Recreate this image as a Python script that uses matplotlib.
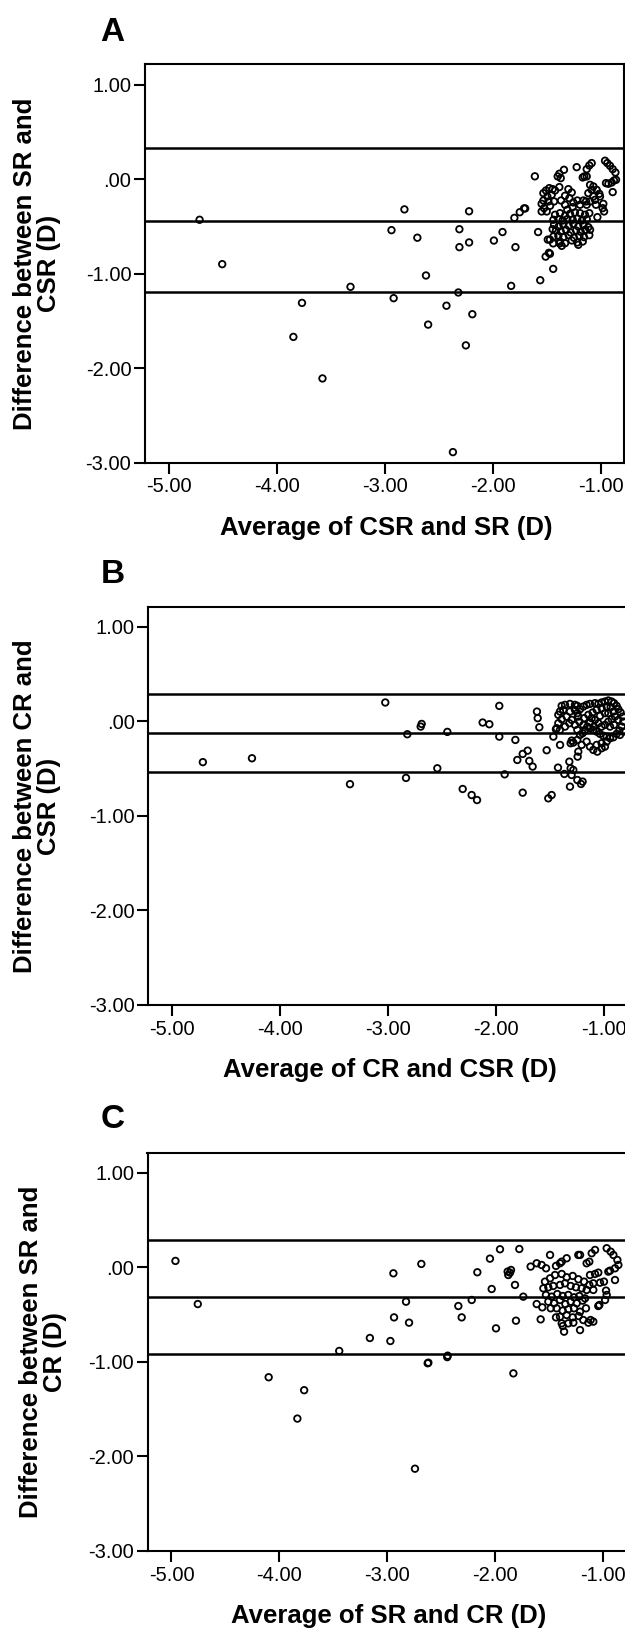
import matplotlib
matplotlib.use('Agg')
import matplotlib.pyplot as plt

plt.rcParams['font.family'] = ['Liberation Sans', 'DejaVu Sans']

# ---------------- data ----------------
x_ticks = [-5, -4, -3, -2, -1]
x_tick_labels = ['-5.00', '-4.00', '-3.00', '-2.00', '-1.00']
y_ticks = [1, 0, -1, -2, -3]
y_tick_labels = ['1.00', '.00', '-1.00', '-2.00', '-3.00']

panel_letters = ['A', 'B', 'C']
x_titles = ['Average of CSR and SR (D)', 'Average of CR and CSR (D)', 'Average of SR and CR (D)']
y_titles = ['Difference between SR and\nCSR (D)',
            'Difference between CR and\nCSR (D)',
            'Difference between SR and\nCR (D)']

# mean difference and limits of agreement (upper, mean, lower)
a_lines = [0.33, -0.44, -1.20]
b_lines = [0.29, -0.12, -0.54]
c_lines = [0.29, -0.31, -0.92]

a_points = [
    (-4.72, -0.43), (-4.51, -0.90), (-3.85, -1.67), (-3.77, -1.31), (-3.58, -2.11),
    (-3.32, -1.14), (-2.94, -0.54), (-2.92, -1.26), (-2.82, -0.32), (-2.70, -0.62),
    (-2.62, -1.02), (-2.60, -1.54), (-2.43, -1.34), (-2.37, -2.89), (-2.32, -1.20),
    (-2.31, -0.53), (-2.31, -0.72), (-2.25, -1.76), (-2.22, -0.34), (-2.22, -0.67),
    (-2.19, -1.43), (-1.99, -0.65), (-1.91, -0.56), (-1.83, -1.13), (-1.80, -0.41),
    (-1.79, -0.72), (-1.75, -0.35), (-1.71, -0.31), (-1.70, -0.31), (-1.61, 0.03),
    (-1.58, -0.56), (-1.56, -1.07), (-1.44, -0.95), (-1.51, -0.82), (-1.48, -0.78),
    (-1.47, -0.79), (-1.38, -0.68), (-1.44, -0.68), (-1.49, -0.64), (-1.47, -0.64),
    (-0.959, 0.195), (-0.938, 0.170), (-0.913, 0.142), (-0.888, 0.106), (-0.863, 0.071),
    (-0.857, -0.007), (-0.876, -0.014), (-0.897, -0.035), (-0.928, -0.049), (-0.950, -0.042),
    (-0.888, -0.137), (-0.975, -0.261), (-0.981, -0.307), (-0.968, -0.342), (-1.030, -0.402),
    (-1.083, 0.170), (-1.105, 0.145), (-1.129, 0.106), (-1.151, 0.029), (-1.129, 0.029),
    (-1.166, 0.018), (-1.222, 0.127), (-1.340, 0.099), (-1.383, 0.057), (-1.398, 0.029),
    (-1.370, 0.011),
    (-1.098, -0.060), (-1.067, -0.077), (-1.037, -0.113), (-1.012, -0.155), (-1.083, -0.113),
    (-1.114, -0.148), (-1.067, -0.183), (-1.006, -0.183), (-1.052, -0.219), (-1.098, -0.236),
    (-1.135, -0.236), (-1.043, -0.271),
    (-1.531, -0.148), (-1.507, -0.120), (-1.476, -0.095), (-1.445, -0.106), (-1.423, -0.120),
    (-1.454, -0.166), (-1.494, -0.183), (-1.531, -0.226), (-1.547, -0.261), (-1.525, -0.307),
    (-1.500, -0.342), (-1.547, -0.342), (-1.469, -0.282), (-1.432, -0.236), (-1.485, -0.236),
    (-1.383, -0.084),
    (-1.299, -0.106), (-1.268, -0.141), (-1.290, -0.201), (-1.330, -0.176), (-1.367, -0.226),
    (-1.330, -0.271), (-1.253, -0.247), (-1.216, -0.226), (-1.191, -0.271), (-1.160, -0.226),
    (-1.129, -0.271), (-1.309, -0.324), (-1.259, -0.296),
    (-1.423, -0.377), (-1.377, -0.360), (-1.330, -0.388), (-1.284, -0.367), (-1.238, -0.353),
    (-1.191, -0.360), (-1.145, -0.377), (-1.105, -0.360), (-1.438, -0.430), (-1.392, -0.423),
    (-1.352, -0.437), (-1.309, -0.423), (-1.259, -0.430), (-1.216, -0.416), (-1.173, -0.437),
    (-1.129, -0.423), (-1.432, -0.483), (-1.389, -0.501), (-1.346, -0.480), (-1.296, -0.494),
    (-1.253, -0.473), (-1.207, -0.501), (-1.160, -0.487), (-1.114, -0.508), (-1.414, -0.543),
    (-1.370, -0.554), (-1.321, -0.536), (-1.278, -0.565), (-1.228, -0.543), (-1.185, -0.557),
    (-1.142, -0.536), (-1.445, -0.529), (-1.392, -0.600), (-1.346, -0.614), (-1.296, -0.593),
    (-1.247, -0.621), (-1.197, -0.600), (-1.154, -0.614), (-1.105, -0.593), (-1.377, -0.660),
    (-1.330, -0.678), (-1.268, -0.649), (-1.216, -0.670), (-1.361, -0.706), (-1.207, -0.695),
    (-1.166, -0.660), (-1.438, -0.607), (-1.098, -0.536),
]

b_points = [
    (-4.716, -0.431), (-4.261, -0.390), (-3.353, -0.664),
    (-3.026, 0.200), (-2.822, -0.136), (-2.834, -0.598), (-2.698, -0.055), (-2.689, -0.027),
    (-2.544, -0.496), (-2.451, -0.111), (-2.309, -0.715), (-2.226, -0.779), (-2.176, -0.832),
    (-2.124, -0.012), (-2.062, -0.030), (-1.970, 0.164), (-1.970, -0.161), (-1.920, -0.560),
    (-1.821, -0.196), (-1.803, -0.408), (-1.753, -0.344), (-1.753, -0.754), (-1.707, -0.309),
    (-1.692, -0.418), (-1.661, -0.478), (-1.621, 0.104), (-1.614, 0.034), (-1.599, -0.062),
    (-1.531, -0.305), (-1.516, -0.814), (-1.485, -0.779), (-1.469, -0.161), (-1.426, -0.489),
    (-1.407, -0.249), (-1.445, -0.083), (-1.367, -0.556), (-1.321, -0.426), (-1.309, -0.496),
    (-1.300, -0.567), (-1.315, -0.690), (-1.284, -0.514), (-1.247, -0.620), (-1.213, -0.662),
    (-1.198, -0.637), (-1.309, -0.231), (-1.284, -0.224), (-1.244, -0.373), (-1.238, -0.320),
    (-1.392, 0.164), (-1.361, 0.175), (-1.315, 0.185), (-1.269, 0.175), (-1.247, 0.164),
    (-1.408, 0.104), (-1.377, 0.122), (-1.423, 0.069), (-1.392, 0.023), (-1.423, -0.019),
    (-1.438, -0.072), (-1.408, -0.090), (-1.361, -0.055), (-1.321, -0.019), (-1.299, 0.016),
    (-1.346, 0.051), (-1.315, 0.104), (-1.269, 0.122), (-1.247, 0.087), (-1.222, 0.129),
    (-1.191, 0.157), (-1.161, 0.175), (-1.130, 0.185), (-1.083, 0.193), (-1.052, 0.185),
    (-1.022, 0.200), (-0.991, 0.210), (-0.960, 0.221), (-0.929, 0.210), (-0.907, 0.193),
    (-0.883, 0.164), (-0.867, 0.129), (-0.846, 0.094), (-0.827, 0.051), (-0.821, -0.002),
    (-0.836, -0.055), (-0.858, -0.097), (-0.883, -0.132), (-0.913, -0.168), (-0.944, -0.178),
    (-0.975, -0.161), (-1.006, -0.153), (-1.037, -0.132), (-1.068, -0.108), (-1.099, -0.090),
    (-1.130, -0.072), (-1.154, -0.055), (-1.176, -0.090), (-1.198, -0.125), (-1.222, -0.143),
    (-1.247, -0.090), (-1.269, -0.037), (-1.228, -0.002), (-1.185, 0.034), (-1.145, 0.069),
    (-1.105, 0.094), (-1.068, 0.122), (-1.022, 0.139), (-0.975, 0.157), (-0.938, 0.150),
    (-0.913, 0.104), (-0.898, 0.051), (-0.929, 0.023), (-0.960, -0.002), (-0.991, -0.037),
    (-1.022, -0.055), (-1.052, -0.019), (-1.083, 0.016), (-1.114, 0.034), (-1.130, -0.012),
    (-1.093, -0.055), (-0.991, 0.087), (-1.037, 0.058), (-0.960, 0.087), (-0.944, -0.055),
    (-0.907, -0.037), (-0.867, 0.016), (-0.852, -0.143), (-0.821, -0.108), (-1.191, -0.037),
    (-1.238, 0.051),
    (-1.299, -0.203), (-1.247, -0.196), (-1.207, -0.249), (-1.161, -0.214), (-1.130, -0.267),
    (-1.099, -0.302), (-1.062, -0.320), (-1.022, -0.284), (-0.991, -0.267), (-0.975, -0.214),
    (-1.022, -0.231), (-1.068, -0.249),
]

c_points = [
    (-4.963, 0.067), (-4.756, -0.389), (-4.099, -1.163), (-3.833, -1.600), (-3.770, -1.300),
    (-3.445, -0.885), (-3.161, -0.748), (-2.971, -0.780), (-2.943, -0.064), (-2.937, -0.530),
    (-2.826, -0.364), (-2.798, -0.586), (-2.743, -2.130), (-2.684, 0.035), (-2.619, -1.009),
    (-2.625, -1.015), (-2.440, -0.935), (-2.444, -0.950), (-2.341, -0.410), (-2.310, -0.530),
    (-2.217, -0.346), (-2.165, -0.053), (-2.048, 0.091), (-2.032, -0.230), (-1.992, -0.646),
    (-1.955, 0.190), (-1.878, -0.082), (-1.862, -0.057), (-1.853, -0.029), (-1.884, -0.046),
    (-1.816, -0.187), (-1.807, -0.565), (-1.831, -1.122), (-1.776, 0.193), (-1.739, -0.311),
    (-1.671, 0.007), (-1.615, 0.042), (-1.569, 0.024), (-1.528, -0.011), (-1.491, 0.130),
    (-1.436, 0.014), (-1.399, 0.042), (-1.383, 0.059), (-1.337, 0.095), (-1.615, -0.389),
    (-1.563, -0.424), (-1.578, -0.551), (-1.485, -0.434), (-1.436, -0.530), (-1.383, -0.593),
    (-1.373, -0.621), (-1.361, -0.681), (-1.275, -0.586), (-1.213, -0.664), (-1.136, -0.586),
    (-1.115, -0.558), (-1.090, -0.575), (-1.229, 0.130), (-1.213, 0.130), (-1.152, 0.042),
    (-1.127, 0.059), (-1.105, 0.148), (-1.074, 0.183), (-0.966, 0.201), (-0.929, 0.165),
    (-0.904, 0.130), (-0.867, 0.077), (-0.858, 0.024), (-0.889, -0.011), (-0.935, -0.036),
    (-0.951, -0.046), (-0.889, -0.135), (-0.972, -0.247), (-0.966, -0.293), (-0.981, -0.346),
    (-1.034, -0.399), (-1.044, -0.410), (-1.028, -0.163), (-0.991, -0.152), (-1.090, -0.170),
    (-1.121, -0.082), (-1.074, -0.071), (-1.044, -0.057), (-1.090, -0.240), (-1.127, -0.187),
    (-1.538, -0.152), (-1.491, -0.117), (-1.445, -0.082), (-1.383, -0.071), (-1.337, -0.106),
    (-1.281, -0.092), (-1.229, -0.127), (-1.176, -0.152),
    (-1.553, -0.223), (-1.507, -0.212), (-1.461, -0.198), (-1.399, -0.187), (-1.352, -0.170),
    (-1.300, -0.198), (-1.251, -0.212), (-1.198, -0.223), (-1.152, -0.240),
    (-1.529, -0.293), (-1.476, -0.311), (-1.424, -0.283), (-1.374, -0.304), (-1.322, -0.293),
    (-1.269, -0.318), (-1.220, -0.304), (-1.167, -0.329),
    (-1.507, -0.364), (-1.454, -0.381), (-1.399, -0.346), (-1.349, -0.389), (-1.300, -0.364),
    (-1.244, -0.381), (-1.189, -0.353),
    (-1.430, -0.434), (-1.374, -0.459), (-1.322, -0.445), (-1.269, -0.434), (-1.213, -0.470),
    (-1.158, -0.434),
    (-1.399, -0.523), (-1.337, -0.505), (-1.281, -0.530), (-1.226, -0.516), (-1.183, -0.558),
    (-1.322, -0.593),
]

# ---------------- layout ----------------
W, H = 625, 1629
fig = plt.figure(figsize=(W / 100, H / 100), dpi=100)

panels = [
    dict(points=a_points, lines=a_lines, box=(144.7, 623.8, 64.4, 462.5),
         xlim=(-5.229, -0.785), ylim=(-3.0, 1.215),
         letter_xy=(100, 41), ylab_x=37, xlab_x=385.8),
    dict(points=b_points, lines=b_lines, box=(147.9, 630.0, 607.0, 1005.0),
         xlim=(-5.225, -0.759), ylim=(-3.0, 1.21),
         letter_xy=(101, 583), ylab_x=37, xlab_x=389.8),
    dict(points=c_points, lines=c_lines, box=(147.5, 630.0, 1152.8, 1551.0),
         xlim=(-5.222, -0.750), ylim=(-3.0, 1.21),
         letter_xy=(101, 1128), ylab_x=43, xlab_x=388.6),
]

for i, p in enumerate(panels):
    l, r, t, b = p['box']
    ax = fig.add_axes([l / W, 1 - b / H, (r - l) / W, (b - t) / H])
    ax.set_xlim(*p['xlim'])
    ax.set_ylim(*p['ylim'])
    for v in p['lines']:
        ax.axhline(v, color='black', lw=1.8, zorder=2)
    xs = [pt[0] for pt in p['points']]
    ys = [pt[1] for pt in p['points']]
    ax.scatter(xs, ys, s=22, facecolors='none', edgecolors='black',
               linewidths=1.3, zorder=3)
    ax.set_xticks(x_ticks)
    ax.set_xticklabels(x_tick_labels)
    ax.set_yticks(y_ticks)
    ax.set_yticklabels(y_tick_labels)
    ax.tick_params(axis='both', direction='out', length=7.9, width=1.5,
                   labelsize=14.5, colors='black')
    ax.tick_params(axis='y', pad=1.7)
    ax.tick_params(axis='x', pad=2.9)
    for s in ax.spines.values():
        s.set_linewidth(1.5)
        s.set_color('black')

    lx, ly = p['letter_xy']
    fig.text(lx / W, 1 - ly / H, panel_letters[i], fontsize=24,
             fontweight='bold', ha='left', va='baseline')
    fig.text(p['xlab_x'] / W, 1 - (b + 72.5) / H, x_titles[i], fontsize=18.5,
             fontweight='bold', ha='center', va='baseline')
    fig.text(p['ylab_x'] / W, 1 - ((t + b) / 2) / H, y_titles[i], fontsize=18.5,
             fontweight='bold', ha='center', va='center', rotation=90,
             multialignment='center', linespacing=1.0)

fig.savefig('out.png', dpi=100)
